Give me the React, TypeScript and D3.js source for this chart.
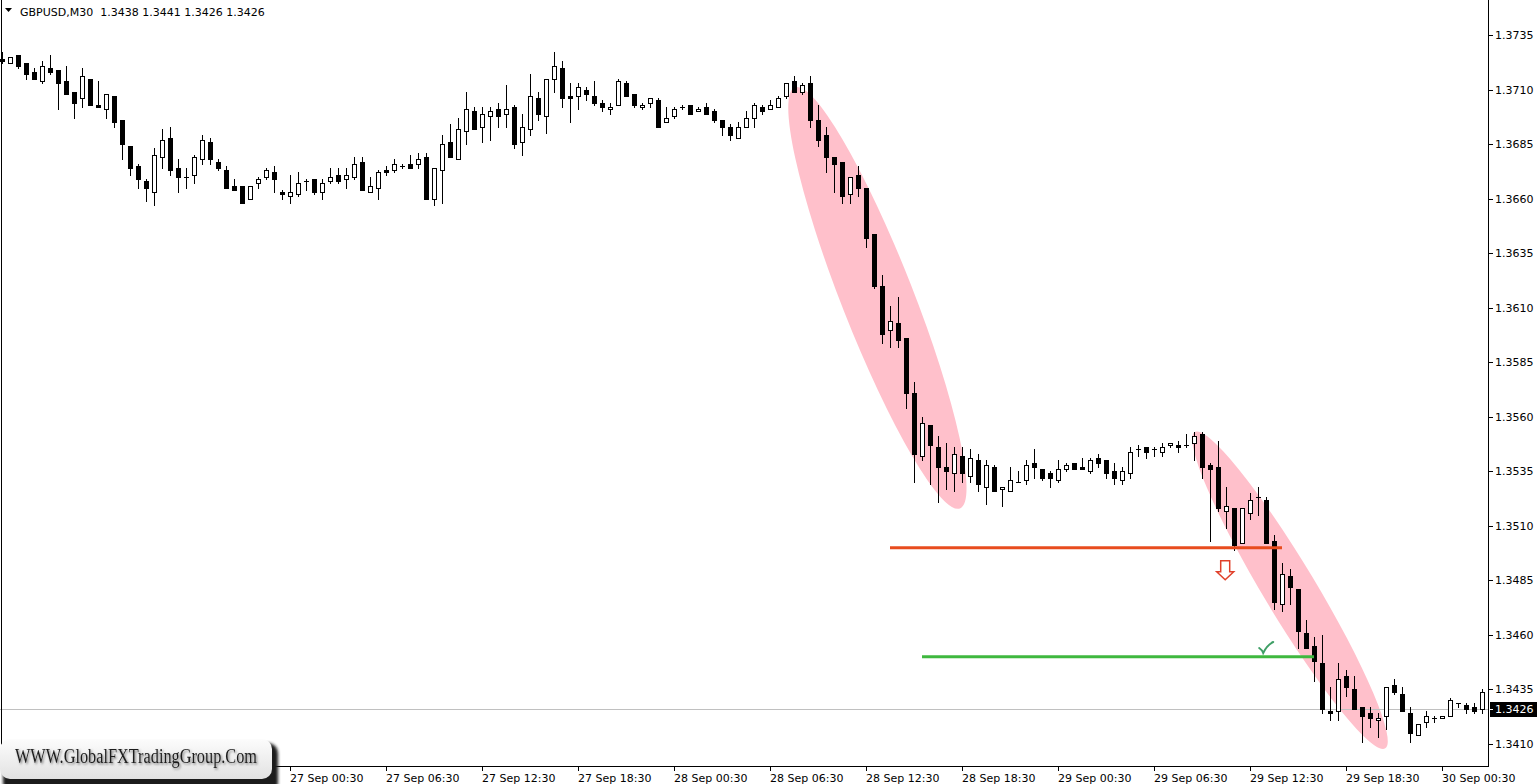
import React from "react";
import * as d3 from "d3";

// ---------- DATA ----------
const symbolLabel = "GBPUSD,M30";
const headerQuote = [1.3438, 1.3441, 1.3426, 1.3426];
const currentPrice = 1.3426;
const firstBarTime = "2017-09-26T06:30:00Z";
const barMinutes = 30;

const opens = [
  1.3724, 1.3722, 1.3726, 1.3722, 1.3718, 1.3714, 1.3720, 1.3719, 1.3714, 1.3709,
  1.3706, 1.3715, 1.3703, 1.3701, 1.3707, 1.3696, 1.3684, 1.3675, 1.3668, 1.3663,
  1.3679, 1.3688, 1.3674, 1.3670, 1.3671, 1.3678, 1.3686, 1.3677, 1.3673, 1.3666,
  1.3666, 1.3660, 1.3667, 1.3670, 1.3672, 1.3663, 1.3661, 1.3662, 1.3668, 1.3669,
  1.3663, 1.3668, 1.3671, 1.3669, 1.3670, 1.3677, 1.3663, 1.3665, 1.3673, 1.3673,
  1.3675, 1.3676, 1.3676, 1.3679, 1.3660, 1.3673, 1.3686, 1.3678, 1.3691, 1.3700,
  1.3693, 1.3698, 1.3701, 1.3699, 1.3702, 1.3686, 1.3692, 1.3706, 1.3698, 1.3715,
  1.3720, 1.3707, 1.3707, 1.3710, 1.3707, 1.3704, 1.3701, 1.3703, 1.3713, 1.3708,
  1.3702, 1.3704, 1.3705, 1.3695, 1.3698, 1.3702, 1.3703, 1.3700, 1.3702, 1.3700,
  1.3696, 1.3693, 1.3688, 1.3693, 1.3697, 1.3702, 1.3701, 1.3702, 1.3707, 1.3714,
  1.3709, 1.3713, 1.3696, 1.3689, 1.3679, 1.3677, 1.3662, 1.3671, 1.3665, 1.3644,
  1.3620, 1.3600, 1.3603, 1.3596, 1.3571, 1.3542, 1.3556, 1.3546, 1.3537, 1.3534,
  1.3542, 1.3533, 1.3540, 1.3528, 1.3537, 1.3527, 1.3526, 1.3530, 1.3531, 1.3539,
  1.3536, 1.3534, 1.3531, 1.3536, 1.3539, 1.3537, 1.3535, 1.3541, 1.3540, 1.3535,
  1.3531, 1.3534, 1.3545, 1.3546, 1.3545, 1.3544, 1.3547, 1.3547, 1.3547, 1.3548,
  1.3552, 1.3538, 1.3537, 1.3517, 1.3518, 1.3502, 1.3516, 1.3523, 1.3522, 1.3503,
  1.3474, 1.3487, 1.3481, 1.3461, 1.3455, 1.3447, 1.3425, 1.3425, 1.3441, 1.3435,
  1.3427, 1.3424, 1.3421, 1.3423, 1.3437, 1.3433, 1.3424, 1.3414, 1.3420, 1.3422,
  1.3422, 1.3423, 1.3429, 1.3428, 1.3427, 1.3426,
];

const highs = [
  1.3727, 1.3725, 1.3726, 1.3722, 1.3720, 1.3723, 1.3726, 1.3719, 1.3721, 1.3709,
  1.3720, 1.3715, 1.3714, 1.3708, 1.3707, 1.3696, 1.3684, 1.3676, 1.3669, 1.3683,
  1.3692, 1.3693, 1.3678, 1.3674, 1.3680, 1.3689, 1.3688, 1.3678, 1.3675, 1.3669,
  1.3666, 1.3666, 1.3670, 1.3674, 1.3675, 1.3664, 1.3671, 1.3672, 1.3669, 1.3669,
  1.3669, 1.3674, 1.3674, 1.3674, 1.3679, 1.3679, 1.3670, 1.3673, 1.3675, 1.3678,
  1.3676, 1.3680, 1.3681, 1.3681, 1.3674, 1.3689, 1.3694, 1.3697, 1.3709, 1.3702,
  1.3702, 1.3702, 1.3704, 1.3712, 1.3703, 1.3699, 1.3717, 1.3709, 1.3715, 1.3727,
  1.3723, 1.3713, 1.3713, 1.3711, 1.3714, 1.3705, 1.3704, 1.3715, 1.3714, 1.3708,
  1.3704, 1.3706, 1.3706, 1.3702, 1.3702, 1.3703, 1.3703, 1.3702, 1.3704, 1.3701,
  1.3696, 1.3694, 1.3695, 1.3700, 1.3704, 1.3703, 1.3705, 1.3707, 1.3713, 1.3716,
  1.3713, 1.3716, 1.3703, 1.3693, 1.3679, 1.3677, 1.3670, 1.3675, 1.3665, 1.3644,
  1.3625, 1.3611, 1.3615, 1.3596, 1.3576, 1.3560, 1.3556, 1.3551, 1.3548, 1.3546,
  1.3546, 1.3545, 1.3543, 1.3540, 1.3538, 1.3528, 1.3537, 1.3535, 1.3540, 1.3545,
  1.3536, 1.3535, 1.3540, 1.3539, 1.3539, 1.3541, 1.3541, 1.3543, 1.3540, 1.3539,
  1.3537, 1.3546, 1.3547, 1.3546, 1.3546, 1.3548, 1.3548, 1.3549, 1.3552, 1.3553,
  1.3553, 1.3539, 1.3549, 1.3528, 1.3518, 1.3518, 1.3525, 1.3528, 1.3523, 1.3506,
  1.3493, 1.3490, 1.3481, 1.3467, 1.3459, 1.3460, 1.3436, 1.3447, 1.3444, 1.3441,
  1.3427, 1.3427, 1.3424, 1.3436, 1.3440, 1.3436, 1.3427, 1.3419, 1.3425, 1.3423,
  1.3423, 1.3431, 1.3429, 1.3429, 1.3429, 1.3435,
];

const lows = [
  1.3722, 1.3722, 1.3720, 1.3715, 1.3715, 1.3713, 1.3717, 1.3701, 1.3708, 1.3697,
  1.3702, 1.3703, 1.3702, 1.3697, 1.3693, 1.3678, 1.3671, 1.3665, 1.3659, 1.3657,
  1.3674, 1.3671, 1.3663, 1.3665, 1.3667, 1.3676, 1.3676, 1.3673, 1.3665, 1.3664,
  1.3658, 1.3660, 1.3665, 1.3669, 1.3663, 1.3660, 1.3658, 1.3661, 1.3664, 1.3662,
  1.3660, 1.3667, 1.3667, 1.3665, 1.3669, 1.3664, 1.3663, 1.3660, 1.3671, 1.3672,
  1.3674, 1.3674, 1.3674, 1.3660, 1.3657, 1.3658, 1.3679, 1.3678, 1.3685, 1.3692,
  1.3686, 1.3687, 1.3693, 1.3693, 1.3683, 1.3680, 1.3689, 1.3696, 1.3690, 1.3709,
  1.3702, 1.3695, 1.3701, 1.3705, 1.3703, 1.3700, 1.3699, 1.3703, 1.3707, 1.3702,
  1.3701, 1.3702, 1.3693, 1.3695, 1.3697, 1.3701, 1.3699, 1.3700, 1.3699, 1.3695,
  1.3689, 1.3687, 1.3688, 1.3693, 1.3693, 1.3699, 1.3701, 1.3702, 1.3706, 1.3709,
  1.3708, 1.3693, 1.3684, 1.3672, 1.3663, 1.3658, 1.3658, 1.3661, 1.3638, 1.3619,
  1.3594, 1.3592, 1.3592, 1.3564, 1.3530, 1.3540, 1.3529, 1.3521, 1.3527, 1.3526,
  1.3530, 1.3530, 1.3526, 1.3520, 1.3526, 1.3519, 1.3526, 1.3530, 1.3529, 1.3532,
  1.3531, 1.3528, 1.3530, 1.3535, 1.3536, 1.3536, 1.3534, 1.3537, 1.3532, 1.3529,
  1.3529, 1.3532, 1.3542, 1.3541, 1.3542, 1.3542, 1.3546, 1.3544, 1.3546, 1.3540,
  1.3532, 1.3503, 1.3517, 1.3509, 1.3499, 1.3502, 1.3513, 1.3515, 1.3502, 1.3472,
  1.3471, 1.3474, 1.3454, 1.3454, 1.3439, 1.3424, 1.3421, 1.3421, 1.3432, 1.3426,
  1.3411, 1.3418, 1.3413, 1.3417, 1.3433, 1.3425, 1.3411, 1.3414, 1.3418, 1.3420,
  1.3422, 1.3423, 1.3427, 1.3424, 1.3424, 1.3424,
];

const closes = [
  1.3723, 1.3725, 1.3721, 1.3717, 1.3715, 1.3721, 1.3718, 1.3713, 1.3708, 1.3704,
  1.3716, 1.3703, 1.3702, 1.3708, 1.3695, 1.3685, 1.3674, 1.3669, 1.3665, 1.3680,
  1.3687, 1.3673, 1.3670, 1.3670, 1.3679, 1.3687, 1.3678, 1.3674, 1.3665, 1.3664,
  1.3658, 1.3666, 1.3669, 1.3673, 1.3669, 1.3662, 1.3663, 1.3667, 1.3668, 1.3663,
  1.3667, 1.3670, 1.3668, 1.3671, 1.3676, 1.3664, 1.3666, 1.3672, 1.3672, 1.3676,
  1.3675, 1.3674, 1.3678, 1.3660, 1.3674, 1.3685, 1.3679, 1.3692, 1.3701, 1.3692,
  1.3699, 1.3700, 1.3698, 1.3701, 1.3685, 1.3693, 1.3707, 1.3699, 1.3715, 1.3721,
  1.3706, 1.3706, 1.3711, 1.3708, 1.3704, 1.3702, 1.3702, 1.3714, 1.3707, 1.3703,
  1.3703, 1.3706, 1.3693, 1.3697, 1.3701, 1.3702, 1.3699, 1.3701, 1.3699, 1.3696,
  1.3693, 1.3689, 1.3693, 1.3697, 1.3703, 1.3700, 1.3703, 1.3706, 1.3713, 1.3709,
  1.3712, 1.3696, 1.3687, 1.3679, 1.3676, 1.3661, 1.3670, 1.3665, 1.3642, 1.3620,
  1.3598, 1.3604, 1.3595, 1.3571, 1.3543, 1.3557, 1.3547, 1.3537, 1.3535, 1.3543,
  1.3534, 1.3541, 1.3529, 1.3538, 1.3526, 1.3528, 1.3531, 1.3530, 1.3538, 1.3537,
  1.3532, 1.3532, 1.3536, 1.3538, 1.3536, 1.3536, 1.3540, 1.3539, 1.3534, 1.3532,
  1.3535, 1.3544, 1.3545, 1.3544, 1.3545, 1.3546, 1.3548, 1.3546, 1.3547, 1.3551,
  1.3537, 1.3536, 1.3518, 1.3519, 1.3501, 1.3518, 1.3522, 1.3523, 1.3502, 1.3475,
  1.3488, 1.3482, 1.3462, 1.3454, 1.3448, 1.3426, 1.3424, 1.3440, 1.3436, 1.3426,
  1.3423, 1.3422, 1.3422, 1.3436, 1.3434, 1.3425, 1.3415, 1.3419, 1.3423, 1.3422,
  1.3423, 1.3430, 1.3429, 1.3426, 1.3425, 1.3434,
];

const priceTicks = [
  1.3410, 1.3435, 1.3460, 1.3485, 1.3510, 1.3535, 1.3560,
  1.3585, 1.3610, 1.3635, 1.3660, 1.3685, 1.3710, 1.3735,
];

// annotations, in bar-index / price units
const ellipseFrom = [[99.1, 1.3711], [149.1, 1.3553]];
const ellipseTo = [[119.75, 1.3518], [172.9, 1.3408]];
const entryLevel = { price: 1.35, fromBar: 111, toBar: 160 };
const targetLevel = { price: 1.345, fromBar: 115, toBar: 164 };
const arrowMark = { bar: 152.9, price: 1.3494 };
const checkMark = { bar: 157.9, price: 1.3454 };
const watermarkText = "WWW.GlobalFXTradingGroup.Com";

// ---------- CHART ----------
const W = 1537;
const H = 784;
const plotRight = 1488;
const plotBottom = 766;
const FONT = "'DejaVu Sans', Verdana, sans-serif";

export default function App() {
  const n = opens.length;
  const x = d3.scaleLinear().domain([0, n - 1]).range([2, 2 + 8 * (n - 1)]);
  const y = d3.scaleLinear().domain([1.341, 1.3735]).range([744, 35]);
  const fmt = d3.format(".4f");

  const t0 = new Date(firstBarTime).getTime();
  const timeFmt = d3.utcFormat("%d %b %H:%M");
  const timeTicks = d3
    .range(1, n)
    .map((i) => ({ i, t: new Date(t0 + i * barMinutes * 60000) }))
    .filter((d) => d.t.getUTCMinutes() === 30 && d.t.getUTCHours() % 6 === 0);

  const candles = opens.map((o, i) => ({ i, o, h: highs[i], l: lows[i], c: closes[i] }));

  const ellipses = ellipseFrom.map((p, k) => {
    const q = ellipseTo[k];
    const x1 = x(p[0]), y1 = y(p[1]), x2 = x(q[0]), y2 = y(q[1]);
    const cx = (x1 + x2) / 2, cy = (y1 + y2) / 2;
    const rx = Math.hypot(x2 - x1, y2 - y1) / 2;
    const ang = (Math.atan2(y2 - y1, x2 - x1) * 180) / Math.PI;
    return { cx, cy, rx, ry: k === 0 ? 36 : 26, ang };
  });

  const curY = Math.round(y(currentPrice));
  const ax = x(arrowMark.bar), ay = y(arrowMark.price);
  const arrowPath = `M${ax - 4.5},${ay} L${ax + 4.5},${ay} L${ax + 4.5},${ay + 11} L${ax + 8.5},${ay + 11} L${ax},${ay + 19} L${ax - 8.5},${ay + 11} L${ax - 4.5},${ay + 11} Z`;
  const kx = x(checkMark.bar), ky = y(checkMark.price);
  const checkPath = `M${kx - 6},${ky} Q${kx - 3},${ky + 2} ${kx - 2},${ky + 5} Q${kx + 2},${ky - 3} ${kx + 8},${ky - 6}`;

  const headerText = `${symbolLabel}  ${headerQuote.map(fmt).join(" ")}`;

  return (
    <div style={{ position: "absolute", left: 0, top: 0 }}>
      <svg width={W} height={H} style={{ display: "block", background: "#fff" }}>
        <defs>
          <linearGradient id="wmGrad" x1="0" y1="0" x2="0" y2="1">
            <stop offset="0" stopColor="#fcfcfc" />
            <stop offset="1" stopColor="#e2e2e2" />
          </linearGradient>
          <filter id="wmShadow" x="-10%" y="-30%" width="120%" height="160%">
            <feGaussianBlur stdDeviation="1.5" />
          </filter>
          <filter id="txtShadow" x="-5%" y="-30%" width="110%" height="160%">
            <feDropShadow dx="1.2" dy="1.5" stdDeviation="0.9" floodColor="#666" floodOpacity="0.9" />
          </filter>
        </defs>
        <rect x={0} y={0} width={W} height={H} fill="#fff" />

        {/* pink ellipses */}
        {ellipses.map((e, k) => (
          <ellipse
            key={k}
            cx={e.cx}
            cy={e.cy}
            rx={e.rx}
            ry={e.ry}
            fill="#ffc0cb"
            transform={`rotate(${e.ang} ${e.cx} ${e.cy})`}
          />
        ))}

        {/* current price line */}
        <line x1={0} x2={plotRight} y1={curY + 0.5} y2={curY + 0.5} stroke="#c0c0c0" strokeWidth={1} />

        {/* candles */}
        <g shapeRendering="crispEdges">
          {candles.map((d) => {
            const cx = Math.round(x(d.i));
            const yH = Math.round(y(d.h));
            const yL = Math.round(y(d.l));
            const yO = Math.round(y(d.o));
            const yC = Math.round(y(d.c));
            const top = Math.min(yO, yC);
            const bot = Math.max(yO, yC);
            let body;
            if (top === bot) {
              body = <line x1={cx - 2} x2={cx + 3} y1={top + 0.5} y2={top + 0.5} stroke="#000" />;
            } else if (d.c > d.o) {
              body = (
                <rect x={cx - 1.5} y={top + 0.5} width={4} height={bot - top} fill="#fff" stroke="#000" strokeWidth={1} />
              );
            } else {
              body = <rect x={cx - 2} y={top} width={5} height={bot - top + 1} fill="#000" />;
            }
            return (
              <g key={d.i}>
                <line x1={cx + 0.5} x2={cx + 0.5} y1={yH} y2={yL + 1} stroke="#000" strokeWidth={1} />
                {body}
              </g>
            );
          })}
        </g>

        {/* level lines */}
        <line
          x1={x(entryLevel.fromBar)}
          x2={x(entryLevel.toBar)}
          y1={y(entryLevel.price)}
          y2={y(entryLevel.price)}
          stroke="#e84c1e"
          strokeWidth={3}
        />
        <line
          x1={x(targetLevel.fromBar)}
          x2={x(targetLevel.toBar)}
          y1={y(targetLevel.price)}
          y2={y(targetLevel.price)}
          stroke="#3fb83f"
          strokeWidth={3}
        />
        <path d={arrowPath} fill="#fff" stroke="#e0402a" strokeWidth={1.5} strokeLinejoin="miter" />
        <path d={checkPath} fill="none" stroke="#3f9f66" strokeWidth={2} strokeLinecap="round" />

        {/* frame */}
        <g shapeRendering="crispEdges" stroke="#000">
          <line x1={1.5} x2={1.5} y1={0} y2={plotBottom + 1} />
          <line x1={plotRight + 0.5} x2={plotRight + 0.5} y1={0} y2={plotBottom + 1} />
          <line x1={1} x2={plotRight + 1} y1={plotBottom + 0.5} y2={plotBottom + 0.5} />
        </g>

        {/* price axis */}
        {priceTicks.map((p) => {
          const py = Math.round(y(p));
          return (
            <g key={p}>
              <line x1={plotRight + 1} x2={plotRight + 5} y1={py + 0.5} y2={py + 0.5} stroke="#000" shapeRendering="crispEdges" />
              <text x={plotRight + 7} y={py + 4} fontFamily={FONT} fontSize={11} fill="#000">
                {fmt(p)}
              </text>
            </g>
          );
        })}
        <rect x={plotRight + 2} y={curY - 7} width={W - plotRight - 2} height={15} fill="#000" />
        <line x1={plotRight + 1} x2={plotRight + 5} y1={curY + 0.5} y2={curY + 0.5} stroke="#fff" />
        <text x={plotRight + 7} y={curY + 4} fontFamily={FONT} fontSize={11} fill="#fff">
          {fmt(currentPrice)}
        </text>

        {/* time axis */}
        {timeTicks.map((d) => {
          const tx = Math.round(x(d.i));
          return (
            <g key={d.i}>
              <line x1={tx + 0.5} x2={tx + 0.5} y1={plotBottom} y2={plotBottom + 5} stroke="#000" shapeRendering="crispEdges" />
              <text x={tx} y={782} fontFamily={FONT} fontSize={11} fill="#000">
                {timeFmt(d.t)}
              </text>
            </g>
          );
        })}

        {/* header */}
        <path d="M5,8 L12,8 L8.5,12 Z" fill="#000" />
        <text x={20} y={16} fontFamily={FONT} fontSize={11} fill="#000" style={{ whiteSpace: "pre" }}>
          {headerText}
        </text>

        {/* watermark */}
        <rect x={3} y={743} width={275} height={50} rx={10} fill="#1e1e1e" filter="url(#wmShadow)" />
        <rect x={0} y={739} width={272} height={40} rx={10} fill="url(#wmGrad)" />
        <text
          x={15}
          y={763}
          fontFamily="'Liberation Serif', 'DejaVu Serif', serif"
          fontSize={20}
          textLength={242}
          lengthAdjust="spacingAndGlyphs"
          fill="#1c1c1c"
          filter="url(#txtShadow)"
        >
          {watermarkText}
        </text>
      </svg>
    </div>
  );
}
